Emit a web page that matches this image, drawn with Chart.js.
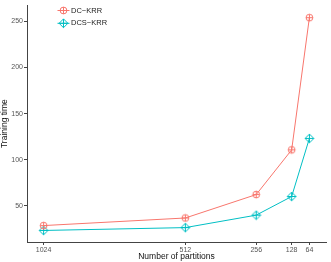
<!DOCTYPE html>
<html>
<head>
<meta charset="utf-8">
<script src="https://cdn.jsdelivr.net/npm/chart.js@4/dist/chart.umd.min.js"></script>
<style>
  html,body{margin:0;padding:0;background:#fff;}
  canvas{display:block;}
</style>
</head>
<body>
<canvas id="chart" width="331" height="262"></canvas>
<script>
// data
const partitions=[1024,512,256,128,64];
const dcKrr=[28.8,37,62.4,110.8,254];
const dcsKrr=[23.5,26.6,40.1,60.3,123.2];
const yTicks=[50,100,150,200,250];
const seriesNames=["DC\u2212KRR","DCS\u2212KRR"];
const seriesColors=["#F8766D","#00BFC4"];

// marker shapes (ggplot shapes 10 and 9)
function drawCirclePlus(g,cx,cy,color){
    g.strokeStyle=color;g.lineWidth=1;
    g.beginPath();g.arc(cx,cy,3.4,0,Math.PI*2);g.stroke();
    g.beginPath();
    g.moveTo(cx-3.4,cy);g.lineTo(cx+3.4,cy);
    g.moveTo(cx,cy-3.4);g.lineTo(cx,cy+3.4);
    g.stroke();
}
function drawDiamondPlus(g,cx,cy,color){
    var r=4.4;
    g.strokeStyle=color;g.lineWidth=1;
    g.beginPath();
    g.moveTo(cx,cy-r);g.lineTo(cx+r,cy);g.lineTo(cx,cy+r);g.lineTo(cx-r,cy);g.closePath();
    g.stroke();
    g.beginPath();
    g.moveTo(cx-r,cy);g.lineTo(cx+r,cy);
    g.moveTo(cx,cy-r);g.lineTo(cx,cy+r);
    g.stroke();
}
const drawers=[drawCirclePlus,drawDiamondPlus];

function markerImage(i){
    var c=document.createElement('canvas');
    c.width=11;c.height=11;
    drawers[i](c.getContext('2d'),5.5,5.5,seriesColors[i]);
    return c;
}
const markers=[markerImage(0),markerImage(1)];

function toPoints(vals){
    return partitions.map(function(p,i){return {x:p,y:vals[i]};});
}

// legend drawn inside the plot, top-left
const insideLegend={
    id:'insideLegend',
    afterDraw:function(chart){
        var ctx=chart.ctx;
        ctx.save();
        ctx.font='7.5px "Liberation Sans", Arial, sans-serif';
        ctx.textBaseline='middle';
        chart.data.datasets.forEach(function(ds,i){
            var y=10.5+i*12.8;
            var mx=63.5;
            ctx.strokeStyle=seriesColors[i];
            ctx.lineWidth=1;
            ctx.beginPath();ctx.moveTo(mx-6,y);ctx.lineTo(mx+6,y);ctx.stroke();
            drawers[i](ctx,mx,y,seriesColors[i]);
            ctx.fillStyle='#222';
            ctx.fillText(ds.label,71,y);
        });
        ctx.restore();
    }
};

const ctx=document.getElementById('chart').getContext('2d');
const myChart=new Chart(ctx,{
    type:'line',
    data:{
        datasets:[
            {
                label:seriesNames[0],
                data:toPoints(dcKrr),
                borderColor:seriesColors[0],
                borderWidth:1,
                pointStyle:markers[0],
                tension:0,
            },
            {
                label:seriesNames[1],
                data:toPoints(dcsKrr),
                borderColor:seriesColors[1],
                borderWidth:1,
                pointStyle:markers[1],
                tension:0,
            },
        ],
    },
    options:{
        responsive:false,
        animation:false,
        devicePixelRatio:1,
        layout:{padding:{left:0,right:0,top:0,bottom:0}},
        plugins:{
            legend:{display:false},
            tooltip:{enabled:false},
        },
        scales:{
            x:{
                type:'linear',
                reverse:true,
                min:4,
                max:1084,
                afterBuildTicks:function(scale){
                    scale.ticks=partitions.map(function(v){return {value:v};});
                },
                afterFit:function(scale){scale.height=20;},
                ticks:{
                    autoSkip:false,
                    maxRotation:0,
                    padding:1,
                    color:'#555',
                    font:{family:'"Liberation Sans", Arial, sans-serif',size:7},
                    callback:function(v){return String(v);},
                },
                grid:{
                    drawOnChartArea:false,
                    tickLength:3,
                    color:'#444',
                },
                border:{display:true,color:'#444',width:1},
                title:{
                    display:true,
                    text:'Number of partitions',
                    color:'#111',
                    padding:{top:0,bottom:0},
                    font:{family:'"Liberation Sans", Arial, sans-serif',size:8.5},
                },
            },
            y:{
                min:11,
                max:267.5,
                afterBuildTicks:function(scale){
                    scale.ticks=yTicks.map(function(v){return {value:v};});
                },
                afterFit:function(scale){scale.width=27;},
                ticks:{
                    padding:1,
                    color:'#555',
                    font:{family:'"Liberation Sans", Arial, sans-serif',size:7},
                },
                grid:{
                    drawOnChartArea:false,
                    tickLength:3,
                    color:'#444',
                },
                border:{display:true,color:'#444',width:1},
                title:{
                    display:true,
                    text:'Training time',
                    color:'#111',
                    padding:{top:0,bottom:0},
                    font:{family:'"Liberation Sans", Arial, sans-serif',size:8.5},
                },
            },
        },
    },
    plugins:[insideLegend],
});
</script>
</body>
</html>
